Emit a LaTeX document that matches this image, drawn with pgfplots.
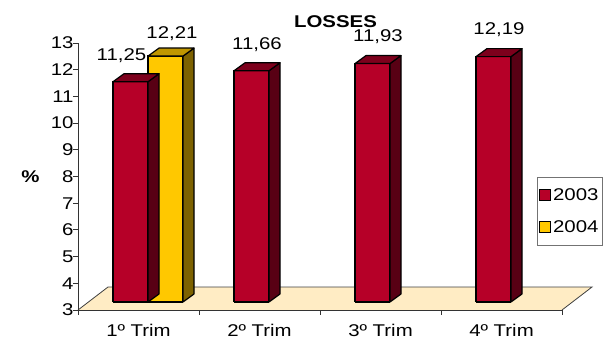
\documentclass[border=0pt]{standalone}
\usepackage{fontspec}
\setmainfont{Liberation Sans}[FakeStretch=1.2]
\usepackage{pgfplots}
\pgfplotsset{compat=1.18}
\usepackage{pgfplotstable}

\definecolor{redF}{RGB}{182,0,40}
\definecolor{redS}{RGB}{88,0,20}
\definecolor{redT}{RGB}{125,0,28}
\definecolor{yelF}{RGB}{255,200,0}
\definecolor{yelS}{RGB}{125,98,0}
\definecolor{yelT}{RGB}{192,150,0}
\definecolor{floorc}{RGB}{255,236,196}
\newcommand\cf{\fontsize{17}{20}\selectfont}

\pgfdeclareplotmark{empty}{}

\pgfplotstableread{
x y
1 11.25
2 11.66
3 11.93
4 12.19
}\tabA
\pgfplotstableread{
x y
1 12.21
}\tabB

\pgfplotsset{
  prism/.style n args={3}{%
    scatter, only marks, mark=empty, forget plot,
    visualization depends on={\thisrow{y} \as \vy},
    scatter/@pre marker code/.code={%
      \pgfmathsetmacro\yb{-(\vy-3)*26.7}%
      \pgfmathsetmacro\ybb{\yb+8}%
      \pgfmathsetmacro\xl{#1-17.5}%
      \pgfmathsetmacro\xr{#1+17.5}%
      \pgfmathsetmacro\xrr{#1+28.5}%
      \pgfmathsetmacro\xlb{#1-6.5}%
      \filldraw[fill=#2, draw=black, line width=1.2pt, line join=round] (\xr pt,0pt) -- (\xrr pt,8pt) -- (\xrr pt,\ybb pt) -- (\xr pt,\yb pt) -- cycle;
      \filldraw[fill=#3, draw=black, line width=1.2pt, line join=round] (\xl pt,0pt) -- (\xlb pt,8pt) -- (\xrr pt,8pt) -- (\xr pt,0pt) -- cycle;
      \draw[black, line width=1.2pt] (\xl pt,\yb pt) -- (\xr pt,\yb pt);
    },
    scatter/@post marker code/.code={},
  },
}

\begin{document}
\begin{tikzpicture}
\begin{axis}[
  at={(78pt,29pt)}, anchor=south west,
  scale only axis, width=484pt, height=267pt,
  xmin=0.5, xmax=4.5, ymin=3, ymax=13,
  clip=false, axis on top,
  axis x line*=bottom, axis y line*=left,
  axis line style={-, black!80, line width=0.8pt},
  xtick={1,2,3,4},
  xticklabels={1º Trim,2º Trim,3º Trim,4º Trim},
  minor xtick={0.5,1.5,2.5,3.5,4.5},
  ytick={3,4,...,13},
  minor ytick={3,4,...,13},
  tick align=outside,
  major tick length=0pt, minor tick length=5pt,
  minor tick style={black!80, line width=0.8pt},
  /pgf/number format/assume math mode=true,
  tick label style={font=\cf},
  yticklabel style={xshift=-1pt},
  xticklabel style={yshift=-11pt},
  title={LOSSES},
  title style={font=\cf\bfseries, at={(axis description cs:0.532,1.057)}, anchor=center},
  ylabel={\%},
  ylabel style={font=\cf\bfseries, at={(axis description cs:-0.098,0.498)}, rotate=-90, anchor=center},
]
\addplot[fill=floorc, draw=none] coordinates {(0.5,3) (4.5,3) (4.748,3.861) (0.748,3.861) (0.5,3)};
\addplot[draw=black!75, line width=0.8pt] coordinates {(0.5,3) (0.748,3.861) (4.748,3.861) (4.5,3)};
\end{axis}

\begin{axis}[
  at={(78pt,37pt)}, anchor=south west,
  scale only axis, width=484pt, height=293.7pt,
  xmin=0.5, xmax=4.5, ymin=3, ymax=14,
  axis lines=none,
  legend style={at={(0.9483,0.4256)}, anchor=north west, draw=black!55, line width=0.6pt,
    font=\cf, inner xsep=2pt, inner ysep=9pt, row sep=15pt, nodes={inner sep=2pt}},
  legend cell align=left,
]
\addplot[ybar, bar width=35pt, bar shift=-8pt, fill=redF, draw=black, line width=1.2pt, forget plot,
  nodes near coords={\pgfmathprintnumber[fixed,fixed zerofill,precision=2,use comma,assume math mode=true]{\pgfplotspointmeta}},
  every node near coord/.append style={font=\cf, text=black, anchor=center, xshift=-2.5pt, yshift=26.5pt},
  coordinate style/.condition={x==1}{xshift=-14.5pt}]
  table[x=x,y=y]{\tabA};
\addplot[prism={-8}{redS}{redT}] table[x=x,y=y]{\tabA};
\addplot[ybar, bar width=35pt, bar shift=27pt, fill=yelF, draw=black, line width=1.2pt, forget plot,
  nodes near coords={\pgfmathprintnumber[fixed,fixed zerofill,precision=2,use comma,assume math mode=true]{\pgfplotspointmeta}},
  every node near coord/.append style={font=\cf, text=black, anchor=center, xshift=33.5pt, yshift=22pt}]
  table[x=x,y=y]{\tabB};
\addplot[prism={27}{yelS}{yelT}] table[x=x,y=y]{\tabB};
\addlegendimage{legend image code/.code={\filldraw[fill=redF,draw=black,line width=0.8pt] (0pt,-5.5pt) rectangle (11pt,5.5pt);}}
\addlegendentry{2003}
\addlegendimage{legend image code/.code={\filldraw[fill=yelF,draw=black,line width=0.8pt] (0pt,-5.5pt) rectangle (11pt,5.5pt);}}
\addlegendentry{2004}
\end{axis}
\pgfresetboundingbox
\useasboundingbox (0pt,0pt) rectangle (604pt,339pt);
\end{tikzpicture}
\end{document}
